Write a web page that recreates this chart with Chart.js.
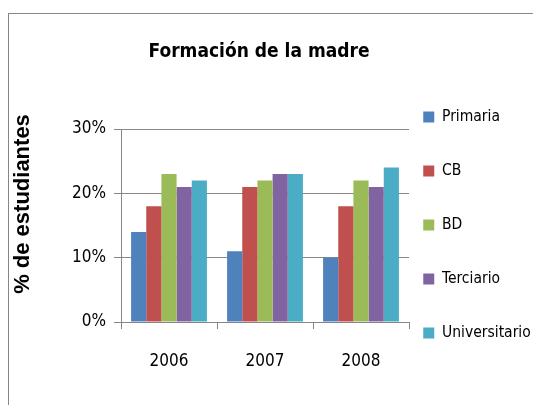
<!DOCTYPE html>
<html>
<head>
<meta charset="utf-8">
<script src="https://cdn.jsdelivr.net/npm/chart.js@4"></script>
<style>
html,body{margin:0;padding:0;background:#fff;}
canvas{display:block;}
</style>
</head>
<body>
<canvas id="c" width="533" height="405"></canvas>
<script>
const categories = ['2006', '2007', '2008'];
const seriesNames = ['Primaria', 'CB', 'BD', 'Terciario', 'Universitario'];
const primaria = [14, 11, 10];
const cb = [18, 21, 18];
const bd = [23, 22, 22];
const terciario = [21, 23, 21];
const universitario = [22, 23, 24];
const yTickValues = [0, 10, 20, 30];
const titleText = 'Formación de la madre';
const yAxisTitle = '% de estudiantes';

const colors = ['#4F81BD', '#C0504D', '#9BBB59', '#8064A2', '#4BACC6'];
const seriesValues = [primaria, cb, bd, terciario, universitario];
const NARROW = "'DejaVu Sans Condensed', 'DejaVu Sans', sans-serif";
const GRID = '#868686';

const framePlugin = {
  id: 'frame',
  beforeDraw(chart) {
    const ctx = chart.ctx;
    ctx.save();
    ctx.fillStyle = '#fff';
    ctx.fillRect(0, 0, chart.width, chart.height);
    ctx.strokeStyle = GRID;
    ctx.lineWidth = 1;
    ctx.strokeRect(8.5, 13.5, 600, 600);
    ctx.restore();
  }
};

const placePlugin = {
  id: 'place',
  afterLayout(chart) {
    if (chart.titleBlock) { chart.titleBlock.left = 0; chart.titleBlock.right = 518; }
    if (chart.legend) { chart.legend.left = 384.75; chart.legend.top = 45; }
    const y = chart.scales.y;
    if (y && !y._titleShift) {
      const orig = y.drawTitle;
      y.drawTitle = function () {
        const t = this.top;
        this.top = t - 43;
        orig.apply(this, arguments);
        this.top = t;
      };
      y._titleShift = true;
    }
  }
};

new Chart(document.getElementById('c'), {
  type: 'bar',
  data: {
    labels: categories,
    datasets: seriesNames.map((n, i) => ({
      label: n,
      data: seriesValues[i],
      backgroundColor: colors[i],
      borderWidth: 0,
      barPercentage: 1,
      categoryPercentage: 0.79
    }))
  },
  options: {
    responsive: false,
    animation: false,
    devicePixelRatio: 1,
    layout: { padding: 0 },
    plugins: {
      tooltip: { enabled: false },
      title: {
        display: true,
        text: titleText,
        color: '#000',
        font: { family: NARROW, size: 19, weight: 'bold' },
        padding: { top: 40.6, bottom: 65.6 }
      },
      legend: {
        display: true,
        position: 'right',
        maxWidth: 124,
        labels: {
          color: '#000',
          font: { family: NARROW, size: 15.5 },
          boxWidth: 11,
          boxHeight: 11,
          padding: 38.5
        }
      }
    },
    scales: {
      x: {
        afterFit(s) { s.height = 83; },
        grid: { display: true, drawOnChartArea: false, color: GRID, tickLength: 7, offset: true },
        border: { color: GRID },
        ticks: { color: '#000', font: { family: NARROW, size: 17 }, padding: 22, maxRotation: 0 }
      },
      y: {
        min: 0,
        max: 30,
        afterFit(s) { s.width = 121; },
        afterBuildTicks(s) { s.ticks = yTickValues.map(v => ({ value: v })); },
        grid: { color: GRID, tickLength: 7 },
        border: { color: GRID },
        ticks: {
          color: '#000',
          font: { family: NARROW, size: 17 },
          padding: 8,
          callback: (v) => v + '%'
        },
        title: {
          display: true,
          text: yAxisTitle,
          color: '#000',
          font: { family: "'Liberation Sans', Arial, sans-serif", size: 22, weight: 'bold' },
          padding: { top: 10, bottom: 0 }
        }
      }
    }
  },
  plugins: [framePlugin, placePlugin]
});
</script>
</body>
</html>
